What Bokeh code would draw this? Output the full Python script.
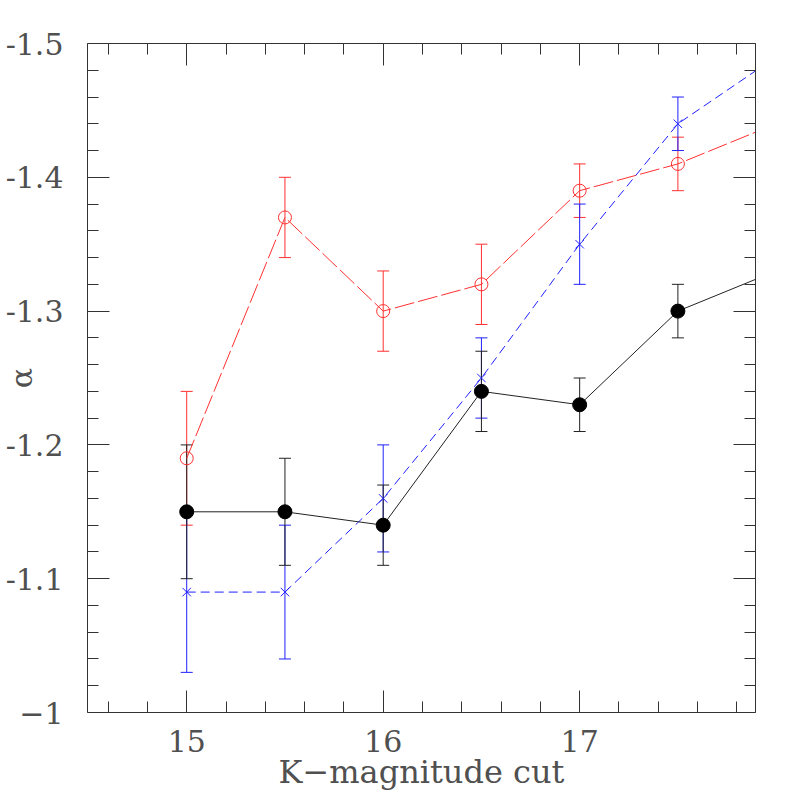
import numpy as np
from bokeh.plotting import figure
from bokeh.models import (ColumnDataSource, Range1d, LinearAxis, FixedTicker,
                          Whisker, TeeHead)
from bokeh.embed import file_html
from bokeh.resources import INLINE

# ---- data ----
kcut = [15.0, 15.5, 16.0, 16.5, 17.0, 17.5, 18.0]
alpha_black = [-1.15, -1.15, -1.14, -1.24, -1.23, -1.30, -1.33]
err_black = [0.05, 0.04, 0.03, 0.03, 0.02, 0.02, 0.02]
alpha_red = [-1.19, -1.37, -1.30, -1.32, -1.39, -1.41, -1.44]
err_red = [0.05, 0.03, 0.03, 0.03, 0.02, 0.02, 0.02]
alpha_blue = [-1.09, -1.09, -1.16, -1.25, -1.35, -1.44, -1.49]
err_blue = [0.06, 0.05, 0.04, 0.03, 0.03, 0.02, 0.02]

x_major = [15, 16, 17]
x_labels = {15: "15", 16: "16", 17: "17"}
y_major = [-1.0, -1.1, -1.2, -1.3, -1.4, -1.5]
y_labels = {-1.0: "−1", -1.1: "-1.1", -1.2: "-1.2", -1.3: "-1.3", -1.4: "-1.4", -1.5: "-1.5"}
x_title = "K−magnitude cut"
y_title = "α"

FONT = "DejaVu Serif"
TXT = "#505050"
AX = "#333333"

p = figure(width=789, height=797, output_backend="svg", toolbar_location=None,
           x_range=Range1d(14.495, 17.895), y_range=Range1d(-1.0, -1.5),
           min_border_left=87, min_border_right=34, min_border_top=43,
           min_border_bottom=85, x_axis_location=None, y_axis_location=None)
p.outline_line_color = None
p.xgrid.visible = False
p.ygrid.visible = False
p.background_fill_color = "white"

x_minor = [round(v, 2) for v in np.arange(14.6, 17.85, 0.2)]
y_minor = [round(v, 2) for v in np.arange(-1.48, -1.0, 0.02)]


def style(ax, labels, show_labels):
    ax.axis_line_color = AX
    ax.axis_line_width = 1
    ax.major_tick_line_color = AX
    ax.minor_tick_line_color = AX
    ax.major_tick_in = 22
    ax.major_tick_out = 0
    ax.minor_tick_in = 11
    ax.minor_tick_out = 0
    ax.major_label_overrides = labels
    ax.major_label_text_font = FONT
    ax.major_label_text_color = TXT
    ax.major_label_text_font_style = "normal"
    if show_labels:
        ax.major_label_text_font_size = "30px"
    else:
        ax.major_label_text_font_size = "0px"
        ax.major_label_standoff = 0


xb = LinearAxis(ticker=FixedTicker(ticks=x_major, minor_ticks=x_minor))
style(xb, x_labels, True)
xb.major_label_standoff = 17
xb.axis_label = x_title
xb.axis_label_text_font = FONT
xb.axis_label_text_font_style = "normal"
xb.axis_label_text_font_size = "32px"
xb.axis_label_text_color = TXT
xb.axis_label_standoff = -2
p.add_layout(xb, "below")

xt = LinearAxis(ticker=FixedTicker(ticks=x_major, minor_ticks=x_minor))
style(xt, {k: "" for k in x_major}, False)
p.add_layout(xt, "above")

yl = LinearAxis(ticker=FixedTicker(ticks=y_major, minor_ticks=y_minor))
style(yl, y_labels, True)
yl.major_label_standoff = 24
yl.axis_label = y_title
yl.axis_label_text_font = FONT
yl.axis_label_text_font_style = "normal"
yl.axis_label_text_font_size = "30px"
yl.axis_label_text_color = TXT
yl.axis_label_standoff = -36
p.add_layout(yl, "left")

yr = LinearAxis(ticker=FixedTicker(ticks=y_major, minor_ticks=y_minor))
style(yr, {k: "" for k in y_major}, False)
p.add_layout(yr, "right")


def series(y, e, color, dash, marker):
    src = ColumnDataSource(dict(x=kcut, y=y,
                                lo=[a - b for a, b in zip(y, e)],
                                hi=[a + b for a, b in zip(y, e)]))
    w = Whisker(source=src, base="x", lower="lo", upper="hi",
                line_color=color, line_width=1,
                upper_head=TeeHead(size=12, line_color=color, line_width=1),
                lower_head=TeeHead(size=12, line_color=color, line_width=1))
    p.add_layout(w)
    p.line("x", "y", source=src, line_color=color, line_width=1, line_dash=dash)
    if marker == "filled":
        p.scatter("x", "y", source=src, marker="circle", size=14,
                  fill_color="black", line_color="black")
    elif marker == "open":
        p.scatter("x", "y", source=src, marker="circle", size=13,
                  fill_color=None, line_color=color, line_width=1)
    else:
        p.scatter("x", "y", source=src, marker="x", size=12,
                  line_color=color, line_width=1)


series(alpha_red, err_red, "#ff3030", "20 4", "open")
series(alpha_blue, err_blue, "#2020ff", "9 5", "x")
series(alpha_black, err_black, "#222222", "solid", "filled")

open("out.html", "w").write(file_html(p, INLINE))
